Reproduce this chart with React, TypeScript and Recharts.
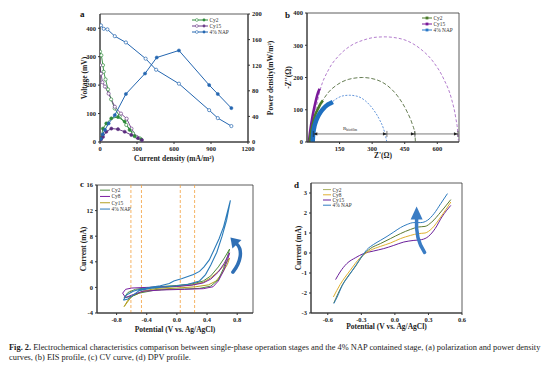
import React from 'react';
import { ComposedChart, Line, XAxis, YAxis, ReferenceArea, ReferenceLine, ReferenceDot, Label } from 'recharts';

const FONT = '"Liberation Serif", "Times New Roman", serif';

// (a) polarization + power density curves
const aCurrentTicks = [0, 300, 600, 900, 1200];
const aVoltTicks = [0, 100, 200, 300, 400];
const aPowerTicks = [0, 40, 80, 120, 160, 200];
const aCy2VoltCurrent = [0, 11, 24, 30, 45, 65, 90, 119, 160, 213, 268, 322];
const aCy2Voltage = [318, 305, 270, 247, 220, 185, 150, 118, 90, 60, 30, 13];
const aCy2PowerCurrent = [8, 24, 51, 92, 146, 200, 240, 281, 335];
const aCy2Power = [6, 21, 29, 37, 39, 32, 19, 9, 4];
const aCy15VoltCurrent = [0, 8, 20, 40, 70, 120, 170, 216, 255, 297];
const aCy15Voltage = [270, 240, 210, 195, 170, 124, 100, 82, 47, 18];
const aCy15PowerCurrent = [8, 24, 51, 92, 146, 200, 254, 308, 340];
const aCy15Power = [4, 8, 16, 21, 20, 16, 11, 6, 3];
const aNapVoltCurrent = [8, 30, 60, 120, 210, 370, 455, 640, 885, 955, 1065];
const aNapVoltage = [410, 398, 396, 372, 350, 293, 254, 205, 112, 84, 56];
const aNapPowerCurrent = [8, 22, 40, 70, 120, 210, 365, 460, 640, 885, 955, 1065];
const aNapPower = [5, 12, 19, 29, 42, 75, 107, 132, 143, 89, 75, 53];

// (b) EIS
const bZreTicks = [150, 300, 450, 600];
const bZimTicks = [0, 100, 200, 300, 400];
const bCy2RawX = [12, 16, 22, 30, 40, 52, 62, 73];
const bCy2RawY = [0, 20, 42, 65, 88, 105, 118, 129];
const bCy15RawX = [9, 12, 17, 23, 30, 38, 47, 58];
const bCy15RawY = [0, 20, 45, 70, 95, 120, 145, 165];
const bNapRawX = [26, 27, 29, 33, 40, 50, 62, 76, 92, 108, 119];
const bNapRawY = [0, 12, 28, 45, 62, 78, 92, 104, 114, 120, 124];
const bCy2FitX = [50, 73, 100, 140, 190, 255, 320, 370, 420, 460, 485, 497, 499];
const bCy2FitY = [106, 130, 155, 178, 194, 200, 193, 175, 140, 95, 55, 25, 2];
const bCy15FitX = [40, 60, 100, 150, 200, 260, 320, 360, 400, 460, 520, 580, 630, 665, 685, 695, 697];
const bCy15FitY = [100, 160, 225, 270, 298, 316, 325, 326, 324, 314, 290, 250, 195, 135, 75, 25, 5];
const bNapFitX = [119, 140, 165, 195, 230, 270, 305, 335, 352, 362, 367];
const bNapFitY = [126, 136, 143, 145, 142, 127, 101, 68, 42, 18, 2];
const bRbiofilmEnds = [368, 497, 695];

// (c) CV
const cPotTicks = [-0.8, -0.4, 0, 0.4, 0.8];
const cCurTicks = [-4, 0, 4, 8, 12, 16];
const cPeakLines = [-0.61, -0.47, 0.045, 0.235];
const cCy2V = [-0.7, -0.65, -0.55, -0.4, -0.2, 0, 0.2, 0.35, 0.45, 0.55, 0.63, 0.7, 0.67, 0.62, 0.55, 0.45, 0.3, 0.1, -0.1, -0.3, -0.5, -0.6, -0.7];
const cCy2I = [-1.6, -0.8, -0.3, -0.05, 0.15, 0.3, 0.55, 1.0, 1.8, 3.2, 4.6, 6.0, 4.8, 3.0, 1.2, 0.2, -0.15, -0.25, -0.3, -0.45, -0.9, -1.4, -1.6];
const cCy8V = [-0.72, -0.68, -0.6, -0.4, 0, 0.2, 0.35, 0.45, 0.55, 0.63, 0.7, 0.67, 0.62, 0.55, 0.48, 0.35, 0.1, -0.2, -0.45, -0.6, -0.68, -0.72];
const cCy8I = [-0.9, -0.3, -0.1, 0.0, 0.15, 0.35, 0.7, 1.3, 2.4, 3.8, 5.4, 4.2, 2.6, 1.0, 0.1, -0.2, -0.3, -0.4, -0.6, -1.2, -1.6, -0.9];
const cCy15V = [-0.7, -0.65, -0.58, -0.45, -0.3, 0, 0.2, 0.35, 0.45, 0.55, 0.63, 0.7, 0.67, 0.6, 0.52, 0.42, 0.25, 0, -0.25, -0.45, -0.6, -0.7];
const cCy15I = [-3.0, -2.0, -1.3, -0.6, -0.2, 0.15, 0.4, 0.8, 1.5, 2.5, 3.5, 4.6, 3.6, 2.2, 1.0, 0.4, 0.1, -0.1, -0.3, -0.6, -1.4, -3.0];
const cNapV = [-0.71, -0.67, -0.58, -0.49, -0.35, -0.22, -0.1, -0.04, 0.07, 0.22, 0.3, 0.36, 0.43, 0.49, 0.56, 0.62, 0.71, 0.66, 0.6, 0.53, 0.45, 0.38, 0.3, 0.15, 0, -0.2, -0.36, -0.5, -0.58, -0.65, -0.71];
const cNapI = [-2.0, -1.2, -0.6, -0.3, 0.0, 0.26, 0.6, 1.0, 1.4, 2.0, 2.5, 3.2, 4.3, 5.8, 7.6, 9.5, 13.6, 10.5, 8.0, 5.5, 3.5, 2.0, 1.0, 0.5, 0.25, 0.05, -0.15, -0.5, -1.2, -1.8, -2.0];

// (d) DPV
const dPotTicks = [-0.6, -0.3, 0, 0.3, 0.6];
const dCurTicks = [-3, -2, -1, 0, 1, 2, 3];
const dCy2V = [-0.546, -0.47, -0.35, -0.29, -0.22, -0.13, -0.04, 0.05, 0.14, 0.21, 0.27, 0.33, 0.41, 0.5];
const dCy2I = [-2.5, -1.6, -0.65, -0.15, 0.22, 0.47, 0.72, 0.97, 1.18, 1.3, 1.33, 1.55, 2.05, 2.67];
const dCy8V = [-0.55, -0.49, -0.4, -0.31, -0.22, -0.13, -0.04, 0.05, 0.14, 0.21, 0.27, 0.33, 0.41, 0.5];
const dCy8I = [-2.2, -1.58, -0.87, -0.23, 0.13, 0.33, 0.5, 0.72, 0.88, 0.97, 1.0, 1.22, 1.8, 2.55];
const dCy15V = [-0.53, -0.49, -0.43, -0.35, -0.28, -0.19, -0.1, -0.01, 0.08, 0.17, 0.24, 0.3, 0.36, 0.42, 0.5];
const dCy15I = [-1.33, -0.95, -0.53, -0.23, -0.03, 0.1, 0.22, 0.38, 0.55, 0.63, 0.67, 0.83, 1.22, 1.8, 2.38];
const dNapV = [-0.546, -0.516, -0.47, -0.41, -0.35, -0.29, -0.25, -0.19, -0.13, -0.07, -0.01, 0.05, 0.11, 0.17, 0.23, 0.29, 0.35, 0.41, 0.47];
const dNapI = [-2.53, -2.2, -1.62, -1.12, -0.62, -0.12, 0.17, 0.43, 0.63, 0.83, 1.05, 1.27, 1.43, 1.52, 1.52, 1.63, 1.97, 2.47, 2.97];

const pts = (xs: number[], ys: number[]) => xs.map((x, i) => ({ x, y: ys[i] }));

const tickStyle = { fontSize: 6.5, fontWeight: 700, fill: '#222', fontFamily: FONT };
const titleStyle = { fontSize: 7.5, fontWeight: 700, fill: '#222', fontFamily: FONT };
const axisCommon = { tick: tickStyle, tickSize: 2, tickMargin: 2, stroke: '#333', allowDataOverflow: true };
const fix1 = (v: number) => v.toFixed(1);

const openDot = (c: string) => ({ r: 1.6, fill: '#fff', stroke: c, strokeWidth: 0.7 });
const fullDot = (c: string) => ({ r: 1.6, fill: c, stroke: c, strokeWidth: 0.5 });

type LegendItem = { name: string; color: string };
function PanelLegend({ left, top, items, kind, lineW, gap }: { left: number; top: number; items: LegendItem[]; kind: string; lineW: number; gap: number }) {
  return (
    <svg style={{ position: 'absolute', left, top, overflow: 'visible' }} width={60} height={items.length * gap}>
      {items.map((it, i) => {
        const cy = i * gap + gap / 2;
        return (
          <g key={it.name}>
            <line x1={0} x2={lineW} y1={cy} y2={cy} stroke={it.color} strokeWidth={1} />
            {kind === 'pair' && (
              <>
                <circle cx={lineW * 0.3} cy={cy} r={1.4} fill="#fff" stroke={it.color} strokeWidth={0.6} />
                <circle cx={lineW * 0.75} cy={cy} r={1.4} fill={it.color} />
              </>
            )}
            {kind === 'square' && <rect x={lineW / 2 - 1.4} y={cy - 1.4} width={2.8} height={2.8} fill={it.color} />}
            <text x={lineW + 1.5} y={cy} dy="0.35em" fontSize={5.4} fontFamily={FONT} fill="#333">{it.name}</text>
          </g>
        );
      })}
    </svg>
  );
}

const letter = (ch: string, left: number, top: number) => (
  <div style={{ position: 'absolute', left, top, fontFamily: FONT, fontWeight: 700, fontSize: 9, lineHeight: 1, color: '#111' }}>{ch}</div>
);

const arrowRight = (p: any) => (
  <g>
    <path d={`M${p.cx} ${p.cy} l-4 -1.6 v3.2 z`} fill="#222" />
    <line x1={p.cx} x2={p.cx} y1={p.cy - 3} y2={p.cy + 3} stroke="#222" strokeWidth={0.6} />
  </g>
);
const arrowLeft = (p: any) => (
  <g>
    <path d={`M${p.cx} ${p.cy} l4 -1.6 v3.2 z`} fill="#222" />
    <line x1={p.cx} x2={p.cx} y1={p.cy - 3} y2={p.cy + 3} stroke="#222" strokeWidth={0.6} />
  </g>
);
const rLabel = (p: any) => (
  <text x={p.cx} y={p.cy} fontSize={5} fontFamily={FONT} fill="#222" textAnchor="middle">
    R<tspan fontSize={3.6} dy={1.2}>biofilm</tspan>
  </text>
);
const curvedArrowC = (p: any) => (
  <g transform={`translate(${p.cx},${p.cy})`}>
    <path d="M -2 18 C 6 8, 8 -4, 2 -10" fill="none" stroke="#2f6fb5" strokeWidth={3.5} strokeLinecap="round" />
    <path d="M -4.5 -16.5 L 6.5 -14 L -2.5 -5.5 Z" fill="#2f6fb5" />
  </g>
);
const curvedArrowD = (p: any) => (
  <g transform={`translate(${p.cx},${p.cy})`}>
    <path d="M 4 22 C -3 12, -5 2, -4 -12" fill="none" stroke="#3a7cc4" strokeWidth={3.5} strokeLinecap="round" />
    <path d="M -4 -24 L 2 -11 L -10 -11 Z" fill="#3a7cc4" />
  </g>
);

export default function App() {
  return (
    <div style={{ position: 'absolute', left: 0, top: 0, width: 554, height: 371, background: '#fff' }}>
      {/* (a) polarization and power density */}
      <div style={{ position: 'absolute', left: 0, top: 0 }}>
        <ComposedChart width={290} height={170} margin={{ top: 14, right: 12, bottom: 4, left: 80 }}>
          <XAxis type="number" dataKey="x" domain={[0, 1200]} ticks={aCurrentTicks} height={24} {...axisCommon}>
            <Label value="Current density (mA/m²)" position="insideBottom" offset={5.5} style={titleStyle} />
          </XAxis>
          <YAxis yAxisId="v" type="number" domain={[0, 450]} ticks={aVoltTicks} width={20} {...axisCommon}>
            <Label value="Voltage (mV)" angle={-90} position="insideLeft" offset={4} style={{ ...titleStyle, textAnchor: 'middle' }} />
          </YAxis>
          <YAxis yAxisId="p" orientation="right" type="number" domain={[0, 200]} ticks={aPowerTicks} width={30} {...axisCommon}>
            <Label value="Power density(mW/m²)" angle={-90} position="insideRight" offset={8} style={{ ...titleStyle, textAnchor: 'middle' }} />
          </YAxis>
          <ReferenceArea yAxisId="v" x1={0} x2={1200} y1={0} y2={450} fill="none" fillOpacity={0} stroke="#333" strokeWidth={0.8} />
          <Line yAxisId="v" data={pts(aCy2VoltCurrent, aCy2Voltage)} dataKey="y" type="linear" stroke="#2e8b3a" strokeWidth={0.9} dot={openDot('#2e8b3a')} isAnimationActive={false} />
          <Line yAxisId="v" data={pts(aCy15VoltCurrent, aCy15Voltage)} dataKey="y" type="linear" stroke="#6f3f8a" strokeWidth={0.9} dot={openDot('#6f3f8a')} isAnimationActive={false} />
          <Line yAxisId="v" data={pts(aNapVoltCurrent, aNapVoltage)} dataKey="y" type="linear" stroke="#2466b0" strokeWidth={1} dot={openDot('#2466b0')} isAnimationActive={false} />
          <Line yAxisId="p" data={pts(aCy2PowerCurrent, aCy2Power)} dataKey="y" type="linear" stroke="#2e8b3a" strokeWidth={0.9} dot={fullDot('#2e8b3a')} isAnimationActive={false} />
          <Line yAxisId="p" data={pts(aCy15PowerCurrent, aCy15Power)} dataKey="y" type="linear" stroke="#5b2d7e" strokeWidth={0.9} dot={fullDot('#5b2d7e')} isAnimationActive={false} />
          <Line yAxisId="p" data={pts(aNapPowerCurrent, aNapPower)} dataKey="y" type="linear" stroke="#2466b0" strokeWidth={1} dot={fullDot('#2466b0')} isAnimationActive={false} />
        </ComposedChart>
      </div>
      {letter('a', 80, 10)}
      <PanelLegend left={192} top={17} gap={6} lineW={16} kind="pair" items={[
        { name: 'Cy2', color: '#2e8b3a' }, { name: 'Cy15', color: '#6f3f8a' }, { name: '4% NAP', color: '#2466b0' }]} />

      {/* (b) EIS */}
      <div style={{ position: 'absolute', left: 270, top: 0 }}>
        <ComposedChart width={270} height={170} margin={{ top: 13, right: 81, bottom: 4, left: 17 }}>
          <XAxis type="number" dataKey="x" domain={[0, 700]} ticks={bZreTicks} height={24} {...axisCommon}>
            <Label value="Z'(Ω)" position="insideBottom" offset={8.5} style={titleStyle} />
          </XAxis>
          <YAxis type="number" domain={[0, 400]} ticks={bZimTicks} width={20} {...axisCommon}>
            <Label value="-Z''(Ω)" angle={-90} position="insideLeft" offset={1} style={{ ...titleStyle, textAnchor: 'middle' }} />
          </YAxis>
          <ReferenceArea x1={0} x2={700} y1={0} y2={400} fill="none" fillOpacity={0} stroke="#333" strokeWidth={0.8} />
          <Line data={pts(bCy15FitX, bCy15FitY)} dataKey="y" type="monotone" stroke="#a05cc0" strokeWidth={0.8} strokeDasharray="3 2" dot={false} isAnimationActive={false} />
          <Line data={pts(bCy2FitX, bCy2FitY)} dataKey="y" type="monotone" stroke="#3e5a26" strokeWidth={0.8} strokeDasharray="4 2" dot={false} isAnimationActive={false} />
          <Line data={pts(bNapFitX, bNapFitY)} dataKey="y" type="monotone" stroke="#3a7ad0" strokeWidth={0.8} strokeDasharray="2 1.5" dot={false} isAnimationActive={false} />
          <ReferenceLine segment={[{ x: 29, y: 25 }, { x: 695, y: 25 }]} stroke="#222" strokeWidth={0.6} />
          <ReferenceDot x={29} y={25} shape={arrowLeft} />
          {bRbiofilmEnds.map((e) => <ReferenceDot key={e} x={e} y={25} shape={arrowRight} />)}
          <ReferenceDot x={198} y={38} shape={rLabel} />
          <Line data={pts(bCy15RawX, bCy15RawY)} dataKey="y" type="monotone" stroke="#7a1a9a" strokeWidth={2.6} dot={false} isAnimationActive={false} />
          <Line data={pts(bCy2RawX, bCy2RawY)} dataKey="y" type="monotone" stroke="#4a7a2a" strokeWidth={2.6} dot={false} isAnimationActive={false} />
          <Line data={pts(bNapRawX, bNapRawY)} dataKey="y" type="monotone" stroke="#1e6fc0" strokeWidth={4.5} dot={false} isAnimationActive={false} />
        </ComposedChart>
      </div>
      {letter('b', 285, 11)}
      <PanelLegend left={422} top={15} gap={6} lineW={10} kind="square" items={[
        { name: 'Cy2', color: '#4a7a2a' }, { name: 'Cy15', color: '#7a1a9a' }, { name: '4% NAP', color: '#2a78c8' }]} />

      {/* (c) CV */}
      <div style={{ position: 'absolute', left: 0, top: 175 }}>
        <ComposedChart width={290} height={165} margin={{ top: 10, right: 37, bottom: 3, left: 77 }}>
          <XAxis type="number" dataKey="x" domain={[-1.06, 1.01]} ticks={cPotTicks} tickFormatter={fix1} height={24} {...axisCommon}>
            <Label value="Potential (V vs. Ag/AgCl)" position="insideBottom" offset={5.5} style={titleStyle} />
          </XAxis>
          <YAxis type="number" domain={[-4, 16]} ticks={cCurTicks} width={20} {...axisCommon}>
            <Label value="Current (mA)" angle={-90} position="insideLeft" offset={6} style={{ ...titleStyle, textAnchor: 'middle' }} />
          </YAxis>
          <ReferenceArea x1={-1.06} x2={1.01} y1={-4} y2={16} fill="none" fillOpacity={0} stroke="#333" strokeWidth={0.8} />
          {cPeakLines.map((v) => <ReferenceLine key={v} x={v} stroke="#f2a03c" strokeWidth={0.8} strokeDasharray="3 2" />)}
          <Line data={pts(cCy15V, cCy15I)} dataKey="y" type="linear" stroke="#b3a022" strokeWidth={1} dot={false} isAnimationActive={false} />
          <Line data={pts(cCy2V, cCy2I)} dataKey="y" type="linear" stroke="#4f8a3e" strokeWidth={1} dot={false} isAnimationActive={false} />
          <Line data={pts(cCy8V, cCy8I)} dataKey="y" type="linear" stroke="#7b1fa2" strokeWidth={1} dot={false} isAnimationActive={false} />
          <Line data={pts(cNapV, cNapI)} dataKey="y" type="linear" stroke="#2b7bb9" strokeWidth={1.1} dot={false} isAnimationActive={false} />
          <ReferenceDot x={0.77} y={5.2} shape={curvedArrowC} />
        </ComposedChart>
      </div>
      {letter('c', 80, 180)}
      <PanelLegend left={100} top={187} gap={6.3} lineW={10} kind="plain" items={[
        { name: 'Cy2', color: '#4f8a3e' }, { name: 'Cy8', color: '#7b1fa2' }, { name: 'Cy15', color: '#b3a022' }, { name: '4% NAP', color: '#2b7bb9' }]} />

      {/* (d) DPV */}
      <div style={{ position: 'absolute', left: 270, top: 175 }}>
        <ComposedChart width={270} height={165} margin={{ top: 8, right: 78, bottom: 3, left: 21 }}>
          <XAxis type="number" dataKey="x" domain={[-0.75, 0.6]} ticks={dPotTicks} tickFormatter={fix1} height={24} {...axisCommon}>
            <Label value="Potential (V vs. Ag/AgCl)" position="insideBottom" offset={8.5} style={titleStyle} />
          </XAxis>
          <YAxis type="number" domain={[-3, 3.5]} ticks={dCurTicks} width={20} {...axisCommon}>
            <Label value="Current (mA)" angle={-90} position="insideLeft" offset={7} style={{ ...titleStyle, textAnchor: 'middle' }} />
          </YAxis>
          <ReferenceArea x1={-0.75} x2={0.6} y1={-3} y2={3.5} fill="none" fillOpacity={0} stroke="#333" strokeWidth={0.8} />
          <Line data={pts(dCy15V, dCy15I)} dataKey="y" type="monotone" stroke="#6a1f9a" strokeWidth={1} dot={false} isAnimationActive={false} />
          <Line data={pts(dCy8V, dCy8I)} dataKey="y" type="monotone" stroke="#e0b030" strokeWidth={1} dot={false} isAnimationActive={false} />
          <Line data={pts(dCy2V, dCy2I)} dataKey="y" type="monotone" stroke="#5c7a30" strokeWidth={1} dot={false} isAnimationActive={false} />
          <Line data={pts(dNapV, dNapI)} dataKey="y" type="monotone" stroke="#2f7cc0" strokeWidth={1} dot={false} isAnimationActive={false} />
          <ReferenceDot x={0.23} y={1.13} shape={curvedArrowD} />
        </ComposedChart>
      </div>
      {letter('d', 294, 181)}
      <PanelLegend left={323} top={186.7} gap={5.2} lineW={8} kind="plain" items={[
        { name: 'Cy2', color: '#a8b060' }, { name: 'Cy8', color: '#e0b030' }, { name: 'Cy15', color: '#6a1f9a' }, { name: '4% NAP', color: '#2f7cc0' }]} />

      <div style={{ position: 'absolute', left: 9, top: 343, width: 545, fontFamily: FONT, fontSize: 8.4, lineHeight: '10px', color: '#222', whiteSpace: 'nowrap' }}>
        <b>Fig. 2.</b> Electrochemical characteristics comparison between single-phase operation stages and the 4% NAP contained stage, (a) polarization and power density
        <br />
        curves, (b) EIS profile, (c) CV curve, (d) DPV profile.
      </div>
    </div>
  );
}
